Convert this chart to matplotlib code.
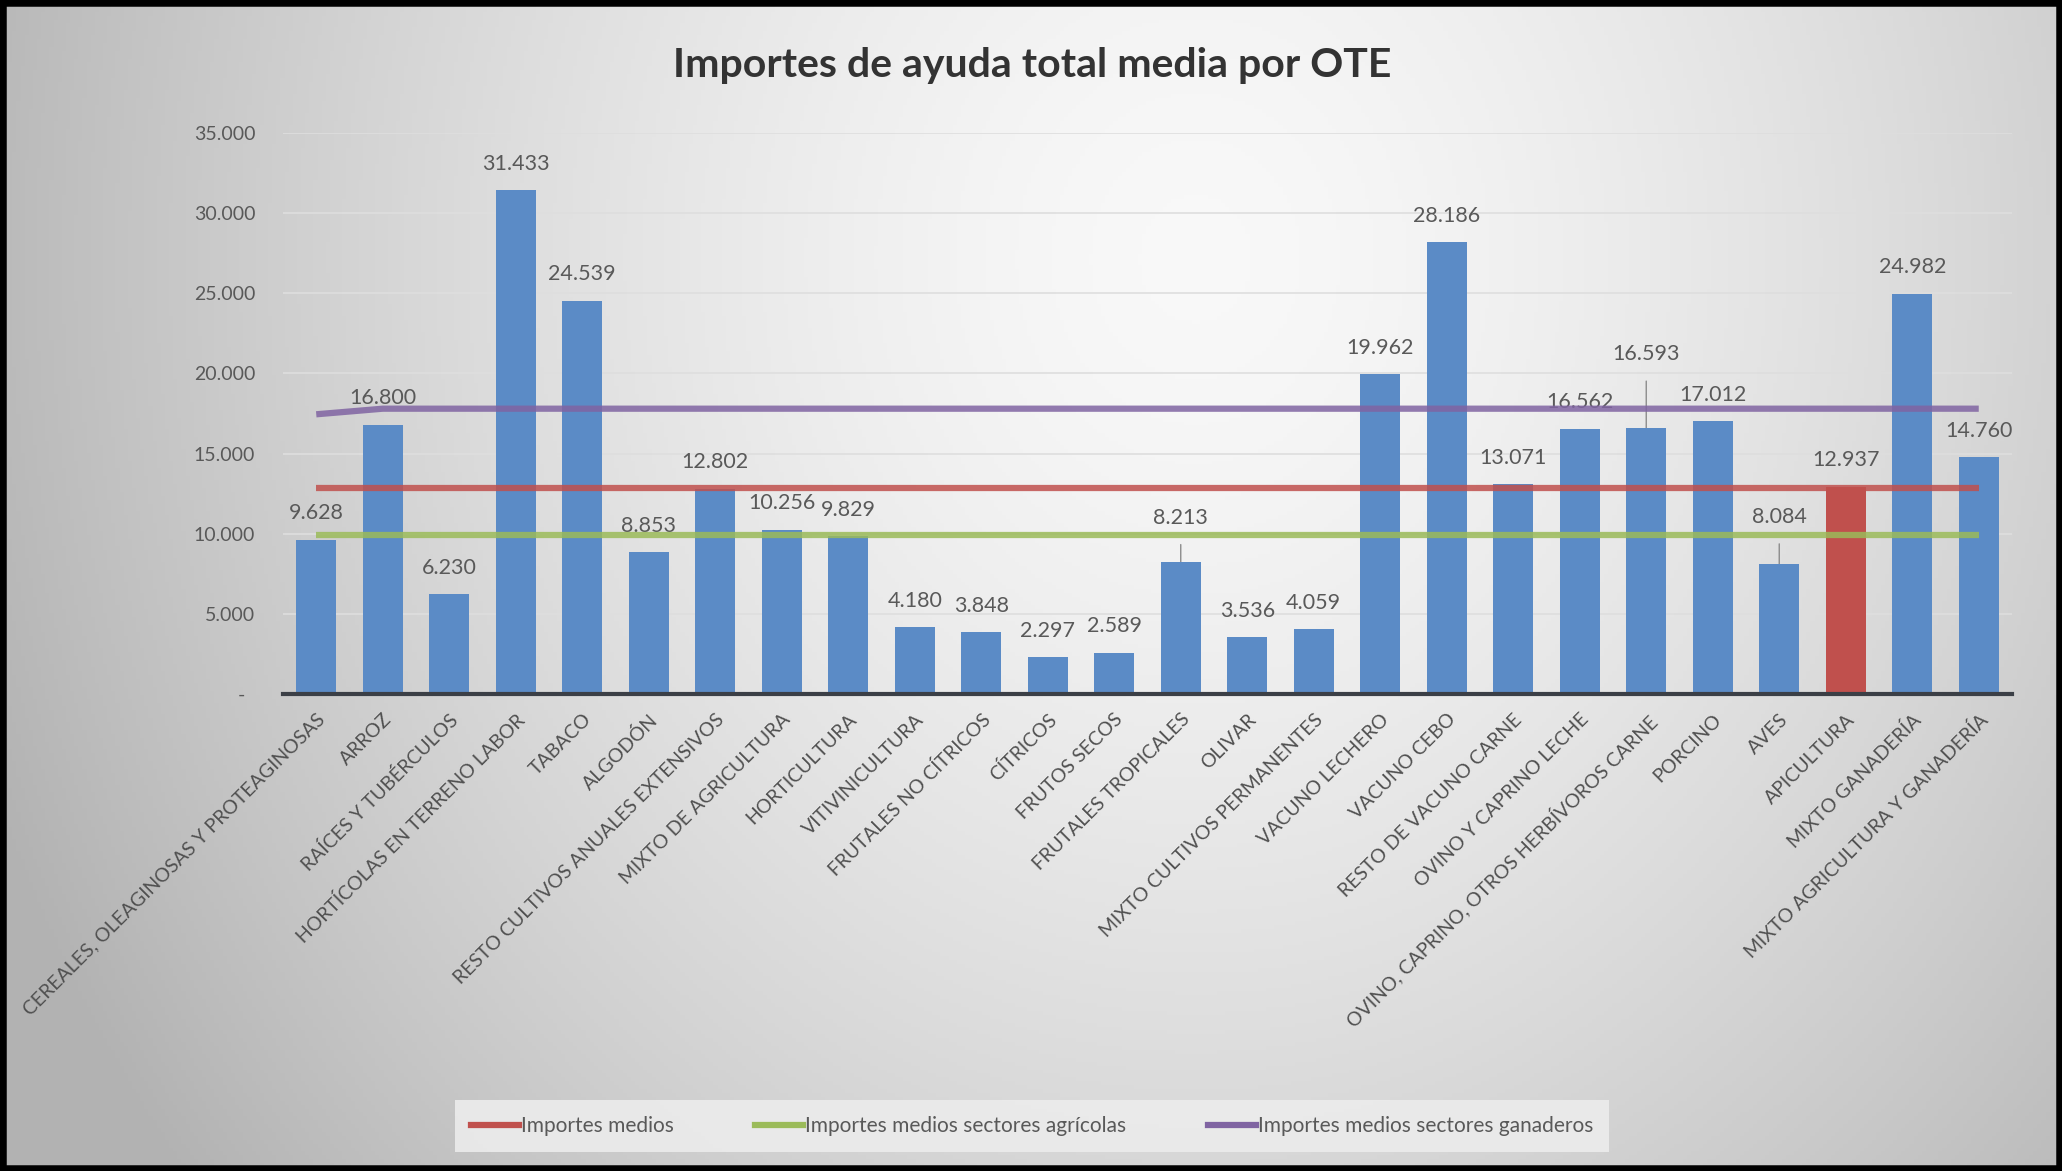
import numpy as np
import matplotlib
matplotlib.use("Agg")
import matplotlib.pyplot as plt
from matplotlib.patches import Rectangle
from matplotlib.lines import Line2D

plt.rcParams['font.family'] = ['Lato', 'DejaVu Sans']

# ---------------- data ----------------
categories = [
    "CEREALES, OLEAGINOSAS Y PROTEAGINOSAS", "ARROZ", "RAÍCES Y TUBÉRCULOS",
    "HORTÍCOLAS EN TERRENO LABOR", "TABACO", "ALGODÓN",
    "RESTO CULTIVOS ANUALES EXTENSIVOS", "MIXTO DE AGRICULTURA", "HORTICULTURA",
    "VITIVINICULTURA", "FRUTALES NO CÍTRICOS", "CÍTRICOS", "FRUTOS SECOS",
    "FRUTALES TROPICALES", "OLIVAR", "MIXTO CULTIVOS PERMANENTES",
    "VACUNO LECHERO", "VACUNO CEBO", "RESTO DE VACUNO CARNE",
    "OVINO Y CAPRINO LECHE", "OVINO, CAPRINO, OTROS HERBÍVOROS CARNE",
    "PORCINO", "AVES", "APICULTURA", "MIXTO GANADERÍA",
    "MIXTO AGRICULTURA Y GANADERÍA",
]
values = [9628, 16800, 6230, 31433, 24539, 8853, 12802, 10256, 9829, 4180,
          3848, 2297, 2589, 8213, 3536, 4059, 19962, 28186, 13071, 16562,
          16593, 17012, 8084, 12937, 24982, 14760]
importes_medios = [12850, 12850, 12850, 12850, 12850, 12850, 12850, 12850,
                   12850, 12850, 12850, 12850, 12850, 12850, 12850, 12850,
                   12850, 12850, 12850, 12850, 12850, 12850, 12850, 12850,
                   12850, 12850]
medios_agricolas = [9900, 9900, 9900, 9900, 9900, 9900, 9900, 9900, 9900,
                    9900, 9900, 9900, 9900, 9900, 9900, 9900, 9900, 9900,
                    9900, 9900, 9900, 9900, 9900, 9900, 9900, 9900]
medios_ganaderos = [17450, 17800, 17800, 17800, 17800, 17800, 17800, 17800,
                    17800, 17800, 17800, 17800, 17800, 17800, 17800, 17800,
                    17800, 17800, 17800, 17800, 17800, 17800, 17800, 17800,
                    17800, 17800]
yticks = [0, 5000, 10000, 15000, 20000, 25000, 30000, 35000]
ytick_labels = ["-  ", "5.000", "10.000", "15.000", "20.000", "25.000",
                "30.000", "35.000"]
highlight = "APICULTURA"
title = "Importes de ayuda total media por OTE"
legend_labels = ["Importes medios", "Importes medios sectores agrícolas",
                 "Importes medios sectores ganaderos"]

# label offsets (points above bar top) – layout only
default_off = 19
special_off = {"FRUTALES TROPICALES": 32, "OVINO, CAPRINO, OTROS HERBÍVOROS CARNE": 53,
               "AVES": 34}

# ---------------- colours ----------------
BLUE = "#5b8bc6"
RED_BAR = "#c0504d"
C_RED = "#c0504d"
C_GREEN = "#9bbb59"
C_PURPLE = "#8064a2"
TXT = "#595959"

W, H = 2062, 1171
fig = plt.figure(figsize=(W / 100, H / 100), dpi=100)

# background gradient
bg = fig.add_axes([0, 0, 1, 1], zorder=-10)
yy, xx = np.mgrid[0:1:300j, 0:1:500j]
r = np.sqrt(((xx - 0.58) / 0.62) ** 2 + ((yy - 0.22) / 1.25) ** 2)
v = 0.975 - 0.27 * r ** 1.5
v = np.clip(v, 0.70, 1.0)
img = np.dstack([v, v, v])
bg.imshow(img, extent=[0, 1, 0, 1], aspect='auto', origin='upper')
bg.set_xlim(0, 1)
bg.set_ylim(0, 1)
bg.axis('off')

ax = fig.add_axes([283 / W, 1 - 694 / H, (2012 - 283) / W, (694 - 133) / H])
ax.set_facecolor('none')

x = np.arange(len(categories))
colors = [RED_BAR if c == highlight else BLUE for c in categories]
ax.bar(x, values, width=0.6, color=colors, zorder=2)

ax.plot(x, importes_medios, color=C_RED, lw=4.5, alpha=0.85, zorder=3,
        solid_capstyle='butt')
ax.plot(x, medios_agricolas, color=C_GREEN, lw=4.5, alpha=0.85, zorder=3,
        solid_capstyle='butt')
ax.plot(x, medios_ganaderos, color=C_PURPLE, lw=4.5, alpha=0.85, zorder=3,
        solid_capstyle='butt')

for xi, val, cat in zip(x, values, categories):
    off = special_off.get(cat, default_off)
    lbl = f"{val:,}".replace(",", ".")
    if cat in special_off:
        ax.annotate(lbl, xy=(xi, val), xytext=(0, off), textcoords='offset points',
                    ha='center', va='center', fontsize=15.5, color=TXT, zorder=1.5,
                    arrowprops=dict(arrowstyle='-', color='#8c8c8c', lw=1,
                                    shrinkA=10, shrinkB=0))
    else:
        ax.annotate(lbl, xy=(xi, val), xytext=(0, off), textcoords='offset points',
                    ha='center', va='center', fontsize=15.5, color=TXT, zorder=1.5)

ax.set_xlim(-0.5, len(categories) - 0.5)
ax.set_ylim(0, 35000)
ax.set_yticks(yticks)
ax.set_yticklabels(ytick_labels, fontsize=14, color=TXT)
ax.set_xticks(x)
ax.set_xticklabels(categories, rotation=45, ha='right', va='top',
                   rotation_mode='anchor', fontsize=14, color='#505050')
ax.tick_params(axis='y', length=0, pad=20)
ax.tick_params(axis='x', length=0, pad=12)
ax.grid(axis='y', color='#dedede', lw=1.2, zorder=0)
ax.set_axisbelow(True)
for s in ['top', 'right', 'left']:
    ax.spines[s].set_visible(False)
ax.spines['bottom'].set_color('#3b3f46')
ax.spines['bottom'].set_linewidth(3)
ax.spines['bottom'].set_zorder(4)

fig.text(0.5005, 1 - 66 / H, title, ha='center', va='center', fontsize=29.5,
         fontweight='bold', color='#333333')

handles = [Line2D([0], [0], color=C_RED, lw=4.5),
           Line2D([0], [0], color=C_GREEN, lw=4.5),
           Line2D([0], [0], color=C_PURPLE, lw=4.5)]
leg = fig.legend(handles, legend_labels, loc='center',
                 bbox_to_anchor=(0.5005, 1 - 1126 / H), ncol=3, frameon=True,
                 fontsize=15, handlelength=2.3, handletextpad=0.1,
                 columnspacing=3.9, borderpad=0.75, fancybox=False,
                 borderaxespad=0)
leg.get_frame().set_facecolor('#ececec')
leg.get_frame().set_edgecolor('none')
leg.get_frame().set_alpha(0.9)
for t in leg.get_texts():
    t.set_color(TXT)

fig.patches.append(Rectangle((0, 0), 1, 1, transform=fig.transFigure,
                             fill=False, edgecolor='black', lw=9, zorder=100))

fig.savefig("out.png", dpi=100)
